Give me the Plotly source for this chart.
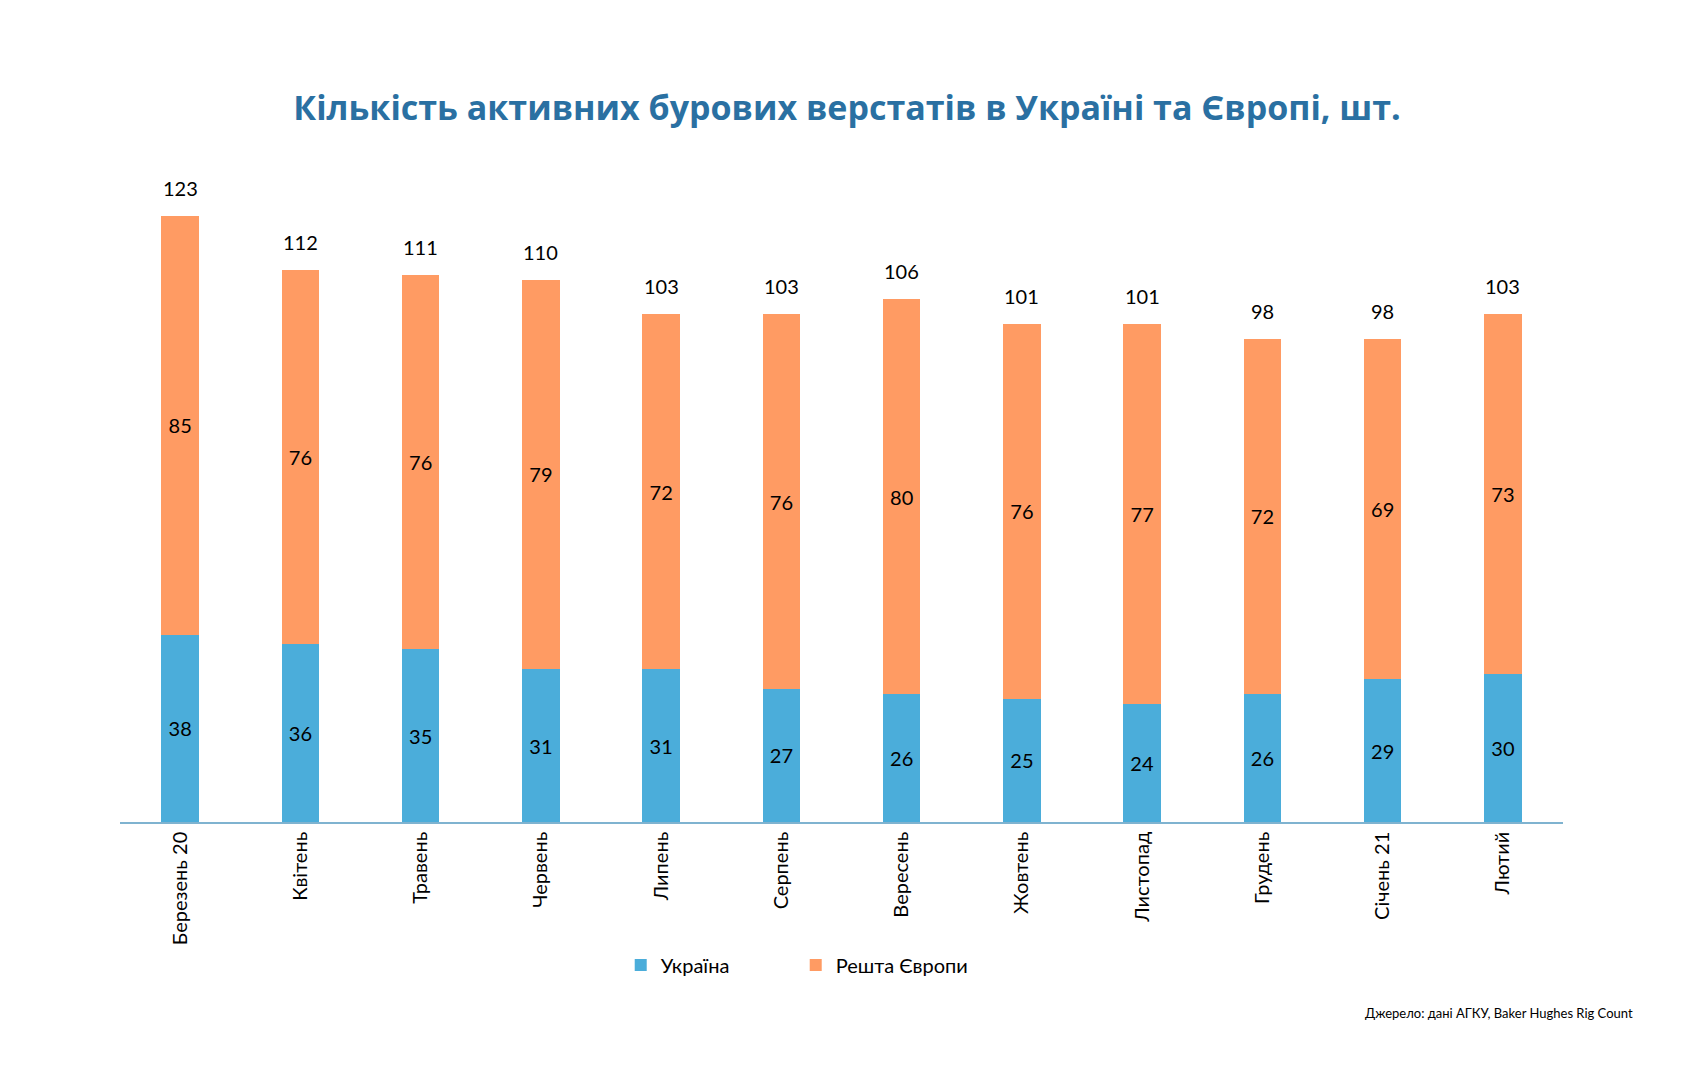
import plotly.graph_objects as go

months = ["Березень 20", "Квітень", "Травень", "Червень", "Липень", "Серпень",
          "Вересень", "Жовтень", "Листопад", "Грудень", "Січень 21", "Лютий"]
ukraine = [38, 36, 35, 31, 31, 27, 26, 25, 24, 26, 29, 30]
rest_europe = [85, 76, 76, 79, 72, 76, 80, 76, 77, 72, 69, 73]
totals = [u + r for u, r in zip(ukraine, rest_europe)]

BLUE = "#4badda"
ORANGE = "#ff9b63"
FONT = "Lato"

fig = go.Figure()
fig.add_trace(go.Bar(
    x=months, y=ukraine, name="Україна", marker=dict(color=BLUE, line=dict(width=0)),
    text=ukraine, textposition="inside", insidetextanchor="middle", textangle=0,
    textfont=dict(color="black", size=20, family=FONT),
))
fig.add_trace(go.Bar(
    x=months, y=rest_europe, name="Решта Європи", marker=dict(color=ORANGE, line=dict(width=0)),
    text=rest_europe, textposition="inside", insidetextanchor="middle", textangle=0,
    textfont=dict(color="black", size=20, family=FONT),
))

annotations = [
    dict(x=m, y=t, text=str(t), xref="x", yref="y", showarrow=False,
         yanchor="bottom", yshift=14, font=dict(size=20, family=FONT, color="black"))
    for m, t in zip(months, totals)
]
annotations.append(dict(
    text="Джерело: дані АГКУ, Baker Hughes Rig Count",
    xref="paper", yref="paper", x=(1635 - 120) / 1443, y=(822 - 1013) / 641,
    xanchor="right", yanchor="middle", showarrow=False,
    font=dict(size=13, family=FONT, color="black"),
))

fig.update_layout(
    width=1684, height=1080,
    barmode="stack", bargap=0.69,
    paper_bgcolor="white", plot_bgcolor="white",
    margin=dict(l=120, r=121, t=181, b=258),
    font=dict(family=FONT, color="black", size=20),
    title=dict(
        text="<b>Кількість активних бурових верстатів в Україні та Європі, шт.</b>",
        x=0.503, xanchor="center", y=1 - 108 / 1080, yanchor="middle",
        font=dict(family="Open Sans", size=34, color="#2a70a2"),
    ),
    xaxis=dict(
        range=[-0.5, len(months) - 0.5],
        tickangle=-90, showgrid=False, showline=True, linecolor="#7fb3d0", linewidth=1.5,
        ticks="", tickfont=dict(size=20, family=FONT, color="black"),
    ),
    yaxis=dict(range=[0, 130], visible=False, showgrid=False, zeroline=False),
    legend=dict(
        orientation="h", x=0.347, xanchor="left", y=-0.223, yanchor="middle",
        font=dict(size=20, family=FONT, color="black"),
        entrywidth=130, entrywidthmode="pixels", traceorder="normal",
    ),
    annotations=annotations,
)

fig.write_html("out.html")
